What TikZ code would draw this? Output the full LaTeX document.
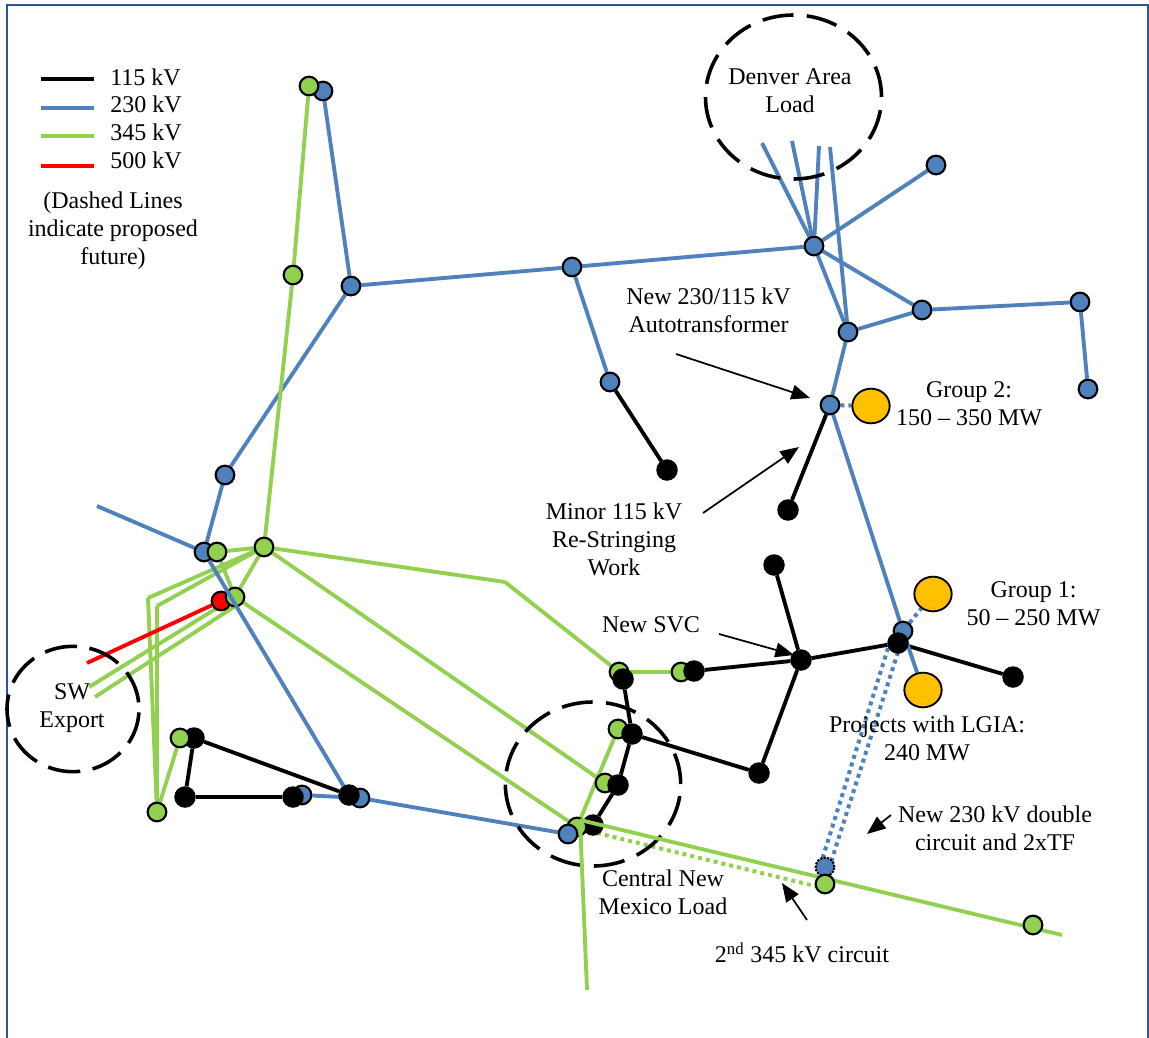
\documentclass[tikz,border=0pt]{standalone}
\usepackage{fontspec}
\setmainfont{Liberation Serif}
\usetikzlibrary{arrows.meta,backgrounds,shapes.geometric}

\definecolor{lineblue}{HTML}{4F81BD}
\definecolor{linegreen}{HTML}{92D050}
\definecolor{gengold}{HTML}{FFC000}
\definecolor{framecol}{HTML}{2F5597}

\tikzset{
	bus/.style={circle,draw=black,line width=1.6pt,minimum size=14pt,inner sep=0pt},
	busblue/.style={bus,fill=lineblue},
	busgreen/.style={bus,fill=linegreen},
	busblack/.style={bus,fill=black,minimum size=14.5pt},
	busred/.style={bus,fill=red},
	gen/.style={ellipse,draw=black,line width=1.4pt,fill=gengold,minimum width=28pt,minimum height=26pt,inner sep=0pt},
	kv115/.style={black,line width=2.9pt},
	kv230/.style={lineblue,line width=2.9pt},
	kv345/.style={linegreen,line width=2.9pt},
	kv500/.style={red,line width=2.9pt},
	future/.style={line width=3pt,dash pattern=on 3pt off 3pt},
	loadarea/.style={ellipse,draw=black,line width=2.7pt,dash pattern=on 23.4pt off 10pt,inner sep=0pt},
	pointer/.style={black,line width=1.3pt,-{Triangle[length=14pt,width=11pt]}},
	txt/.style={align=center,inner sep=0pt,font=\fontsize{18}{21}\selectfont}
}

\begin{document}
\begin{tikzpicture}[x=0.75pt,y=-0.75pt]
	\useasboundingbox (0,0) rectangle (1149,1038);
	\draw[framecol,line width=1.2pt] (7,1038) -- (7,5) -- (1148,5) -- (1148,1038);

	% load areas
	\node[loadarea,minimum width=132pt,minimum height=123pt] (denver) at (793.5,97) {};
	\node[loadarea,minimum width=99pt,minimum height=94pt,dash pattern=on 24.5pt off 9.4pt,dash phase=28.9pt] (swarea) at (73,709) {};
	\node[loadarea,minimum width=131.5pt,minimum height=123pt] (central) at (593,784) {};

	% free ends
	\foreach \n/\x/\y in {d1/762/143,d2/792/141,d3/819/146,d4/830/147,w1/97/506,
		s1/505/582,s2/148/598,s3/157/606,s4/89/687,s5/95/697,s6/87/663,s7/240/603,
		e1/580/820,e2/1062/935,e3/587/990,e4/597/833,e5/815/886,
		t1/888/648,t2/898/652,t3/822/860,t4/831/862}
	{ \coordinate (\n) at (\x,\y);
	}

	% nodes, lowest first
	\node[busred] (r1) at (221,601) {};
	\node[busblack] (k1) at (194,738) {};
	\node[busblack] (k8) at (593,825) {};
	\foreach \n/\x/\y in {b1/323/91,b2/351/286,b3/572/267,b4/814/246,b5/936/165,b6/922/310,
		b7/848/332,b8/1080/302,b9/1088/389,b10/830/405,b11/610/382,b12/225/475,
		b13/204/552,b14/903/631,b15/302/795,b16/360/798}
	{ \node[busblue] (\n) at (\x,\y) {};
	}
	\node[busblue,draw=black,densely dotted] (b18) at (825,867) {};
	\foreach \n/\x/\y in {g1/309/86,g2/293/275,g3/264/547,g4/217/552,g5/235/597,g6/157/812,
		g7/180/738,g8/619/672,g9/681/672,g10/618/729,g11/605/783,g12/577/827}
	{ \node[busgreen] (\n) at (\x,\y) {};
	}
	\foreach \n/\x/\y in {k2/185/797,k3/293/797,k4/349/795,k5/623/679,k6/632/734,k7/618/785,
		k9/694/671,k10/801/660,k11/759/773,k12/774/565,k13/898/643,k14/1013/677,
		k15/667/470,k16/788/510}
	{ \node[busblack] (\n) at (\x,\y) {};
	}
	\node[busblue] (b17) at (568,834) {};
	\node[gen] (gen1) at (933,594) {};
	\node[gen] (gen2) at (871,406) {};
	\node[gen] (gen3) at (923,690) {};

	% lines that run over the nodes
	\draw[kv230] (b13) -- (k4);
	\draw[kv345] (e1) -- (e3);
	\draw[kv345] (e1) -- (e2);

	\node[busgreen] (g13) at (825,884) {};
	\node[busgreen] (g14) at (1033,925) {};

	\begin{scope}[on background layer]
	\foreach \a/\b in {k1/k2,k2/k3,k1/k4,k5/k6,k6/k7,k7/k8,k6/k11,k11/k10,k9/k10,k10/k13,
		k13/k14,k12/k10,b11/k15,b10/k16}
	{ \draw[kv115] (\a) -- (\b);
	}
	\foreach \a/\b in {b1/b2,b2/b3,b3/b4,b3/b11,b2/b12,b12/b13,w1/b13,b15/b16,b16/b17,
		d1/b4,d2/b4,d3/b4,d4/b7,b4/b7,b4/b5,b4/b6,b6/b7,b6/b8,b8/b9,b7/b10,b10/b14,b14/gen3}
	{ \draw[kv230] (\a) -- (\b);
	}
	\foreach \a/\b in {g1/g2,g2/g3,g3/g4,g4/g5,g3/g5,s1/g8,g3/g11,g5/g12,g3/s2,s2/g6,g3/s3,s3/g6,
		g5/s4,s7/s5,g7/g6,g8/g9,g10/g12}
	{ \draw[kv345] (\a) -- (\b);
	}
	\draw[kv345] (g3) -- (s1);
	\draw[kv500] (s6) -- (r1);
	% proposed lines
	\draw[kv230,future] (b10) -- (gen2);
	\draw[kv230,future] (b14) -- (gen1);
	\draw[kv230,future] (t1) -- (t3);
	\draw[kv230,future] (t2) -- (t4);
	\draw[kv345,future] (e4) -- (e5);
	\end{scope}

	% legend
	\foreach \n/\y/\s in {1/79/kv115,2/108/kv230,3/136/kv345,4/166/kv500}
	{ \coordinate (la\n) at (41,\y);
		\coordinate (lb\n) at (94,\y);
		\draw[\s] (la\n) -- (lb\n);
	}
	\node[txt,anchor=west] (leg1) at (110,77) {115 kV};
	\node[txt,anchor=west] (leg2) at (110,104) {230 kV};
	\node[txt,anchor=west] (leg3) at (110,132) {345 kV};
	\node[txt,anchor=west] (leg4) at (110,160) {500 kV};
	\node[txt] (legnote) at (113,230.5) {(Dashed Lines\\indicate proposed\\future)};

	% labels
	\node[txt] (denvertxt) at (790,91) {Denver Area\\Load};
	\node[txt] (swtxt) at (72,708) {SW\\Export};
	\node[txt] (centraltxt) at (663,892) {Central New\\Mexico Load};
	\node[txt] (autotxt) at (708.5,310) {New 230/115 kV\\Autotransformer};
	\node[txt] (grp2) at (969,404) {Group 2:\\150 -- 350 MW};
	\node[txt] (grp1) at (1033.5,604) {Group 1:\\50 -- 250 MW};
	\node[txt] (minor) at (614,539) {Minor 115 kV\\Re-Stringing\\Work};
	\node[txt] (svc) at (651,625) {New SVC};
	\node[txt] (lgia) at (927,738) {Projects with LGIA:\\240 MW};
	\node[txt] (dbl) at (995,828) {New 230 kV double\\circuit and 2xTF};
	\node[txt] (second) at (802,953) {2\textsuperscript{nd} 345 kV circuit};

	% pointers
	\foreach \n/\ax/\ay/\bx/\by in {1/676/354/810/398,2/703/513/799/447,3/719/634/794/655,
		4/891/815/867/834,5/807/920/782/883}
	{ \coordinate (pa\n) at (\ax,\ay);
		\coordinate (pb\n) at (\bx,\by);
		\draw[pointer] (pa\n) -- (pb\n);
	}
\end{tikzpicture}
\end{document}
